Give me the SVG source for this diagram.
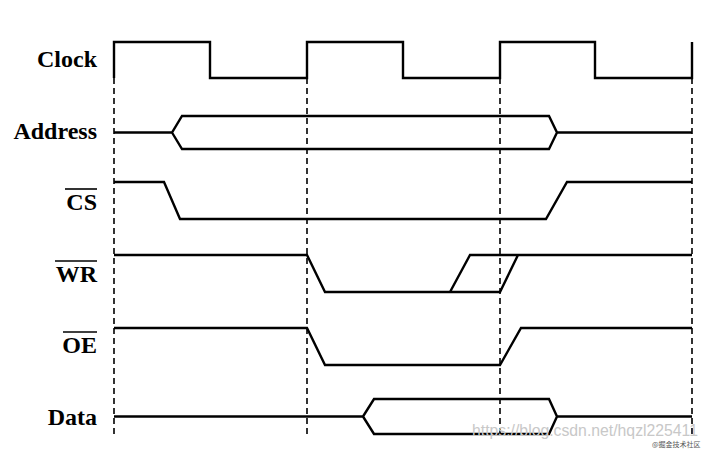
<svg xmlns="http://www.w3.org/2000/svg" width="710" height="450" viewBox="0 0 710 450">
<style>
.sig{fill:none;stroke:#000;stroke-width:2.4;stroke-linejoin:miter}
.dash{fill:none;stroke:#000;stroke-width:1.6;stroke-dasharray:6,4}
.lbl{font-family:"Liberation Serif","Times New Roman",serif;font-size:24px;font-weight:bold;fill:#000;text-anchor:end}
.ovl{stroke:#000;stroke-width:1.6}
.wm{font-family:"Liberation Sans",Arial,sans-serif;font-size:16px;fill:#c8c8c8}
.wm2{font-family:"Noto Sans CJK SC",sans-serif;font-size:7px;fill:#555}
</style>
<rect width="710" height="450" fill="#fff"/>
<g id="guides">
<line class="dash" x1="114" y1="78" x2="114" y2="434"/>
<line class="dash" x1="307" y1="78" x2="307" y2="434"/>
<line class="dash" x1="500" y1="78" x2="500" y2="434"/>
<line class="dash" x1="692" y1="78" x2="692" y2="434"/>
</g>
<g id="clock">
<text class="lbl" x="97" y="67">Clock</text>
<path class="sig" d="M114,78 V42 H210 V78 H307 V42 H403 V78 H500 V42 H595 V78 H692 V42"/>
</g>
<g id="address">
<text class="lbl" x="97" y="139">Address</text>
<path class="sig" d="M114,132.5 H172 L182,116 H549 L557,132.5 H692 M172,132.5 L182,149 H549 L557,132.5"/>
</g>
<g id="cs">
<text class="lbl" x="97" y="210">CS</text>
<line class="ovl" x1="65" y1="189" x2="97" y2="189"/>
<path class="sig" d="M114,182 H164 L180,219 H546 L567,182 H692"/>
</g>
<g id="wr">
<text class="lbl" x="97" y="282">WR</text>
<line class="ovl" x1="55" y1="261" x2="97" y2="261"/>
<path class="sig" d="M114,255 H307 L325,292 H500 L518,255 M450,292 L470,255 H692"/>
</g>
<g id="oe">
<text class="lbl" x="97" y="353">OE</text>
<line class="ovl" x1="63" y1="332" x2="97" y2="332"/>
<path class="sig" d="M114,328 H307 L325,365 H500 L521,328 H692"/>
</g>
<g id="data">
<text class="lbl" x="97" y="425">Data</text>
<path class="sig" d="M114,416.5 H363 L374,399 H549 L557,416.5 H692 M363,416.5 L374,434 H549 L557,416.5"/>
</g>
<g id="watermark">
<text class="wm" x="472" y="436" textLength="226" lengthAdjust="spacingAndGlyphs">https://blog.csdn.net/hqzl225411</text>
<text class="wm2" x="652" y="447">@掘金技术社区</text>
</g>
</svg>
